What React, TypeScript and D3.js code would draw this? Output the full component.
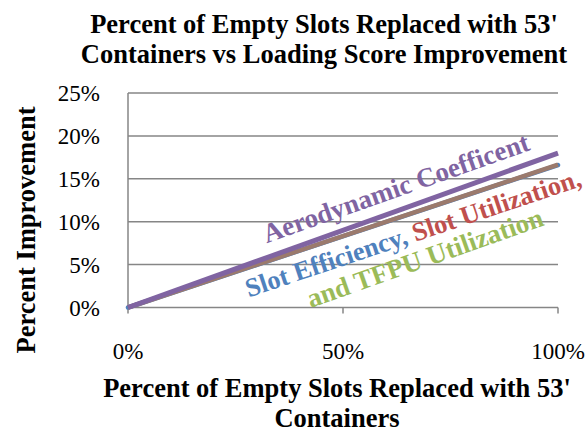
import React from "react";
import * as d3 from "d3";

const xValues = [0, 1];
const aerodynamic = [0, 0.18];
const slotEfficiency = [0, 0.166];
const slotUtilTfpu = [0, 0.1665];
const yTicks = [0, 0.05, 0.1, 0.15, 0.2, 0.25];
const xTicks = [0, 0.5, 1];

const W = 587, H = 432;
const FONT = "'Liberation Serif', 'Times New Roman', serif";

export default function App() {
  const x = d3.scaleLinear().domain([0, 1]).range([128, 558]);
  const y = d3.scaleLinear().domain([0, 0.25]).range([307.5, 93]);
  const fmt = d3.format(".0%");
  const line = (vals: number[]) =>
    d3.line<number>().x((_, i) => x(xValues[i])).y((d) => y(d))(vals) as string;

  return (
    <svg width={W} height={H} style={{ position: "absolute", left: 0, top: 0, background: "#fff" }} fontFamily={FONT}>
      <rect width={W} height={H} fill="#fff" />
      <text x={324} y={33} textAnchor="middle" fontWeight="bold" fontSize={26.5}>Percent of Empty Slots Replaced with 53'</text>
      <text x={324} y={63} textAnchor="middle" fontWeight="bold" fontSize={26.5}>Containers vs Loading Score Improvement</text>
      {yTicks.map((t) => (
        <g key={t}>
          {t > 0 && <line x1={x(0)} x2={x(1)} y1={y(t)} y2={y(t)} stroke="#868686" strokeWidth={1.5} />}
          <text x={100} y={y(t) + 8} textAnchor="end" fontSize={23}>{fmt(t)}</text>
        </g>
      ))}
      <line x1={x(0)} x2={x(0)} y1={y(0.25)} y2={y(0)} stroke="#868686" strokeWidth={1.5} />
      <line x1={x(0)} x2={x(1)} y1={y(0)} y2={y(0)} stroke="#868686" strokeWidth={1.5} />
      {xTicks.map((t) => (
        <g key={t}>
          <line x1={x(t)} x2={x(t)} y1={y(0)} y2={y(0) + 6} stroke="#868686" strokeWidth={1.5} />
          <text x={x(t)} y={359} textAnchor="middle" fontSize={23}>{fmt(t)}</text>
        </g>
      ))}
      <path d={line(slotEfficiency)} stroke="#4F81BD" strokeWidth={4.5} fill="none" strokeLinecap="round" />
      <path d={line(slotUtilTfpu)} stroke="#9B7A6D" strokeWidth={4.5} fill="none" />
      <path d={line(aerodynamic)} stroke="#8064A2" strokeWidth={5} fill="none" />
      <text transform="translate(396,188) rotate(-19.5)" textAnchor="middle" dominantBaseline="central" fontWeight="bold" fontSize={27} fill="#8064A2">Aerodynamic Coefficent</text>
      <text transform="translate(413,233) rotate(-18.5)" textAnchor="middle" dominantBaseline="central" fontWeight="bold" fontSize={26.5}>
        <tspan fill="#4F81BD">Slot Efficiency, </tspan>
        <tspan fill="#C0504D">Slot Utilization,</tspan>
      </text>
      <text transform="translate(425,258) rotate(-19.5)" textAnchor="middle" dominantBaseline="central" fontWeight="bold" fontSize={27} fill="#9BBB59">and TFPU Utilization</text>
      <text transform="translate(26,230) rotate(-90)" textAnchor="middle" dominantBaseline="central" fontWeight="bold" fontSize={26.5}>Percent Improvement</text>
      <text x={337} y={397} textAnchor="middle" fontWeight="bold" fontSize={26.5}>Percent of Empty Slots Replaced with 53'</text>
      <text x={337} y={427} textAnchor="middle" fontWeight="bold" fontSize={26.5}>Containers</text>
    </svg>
  );
}
